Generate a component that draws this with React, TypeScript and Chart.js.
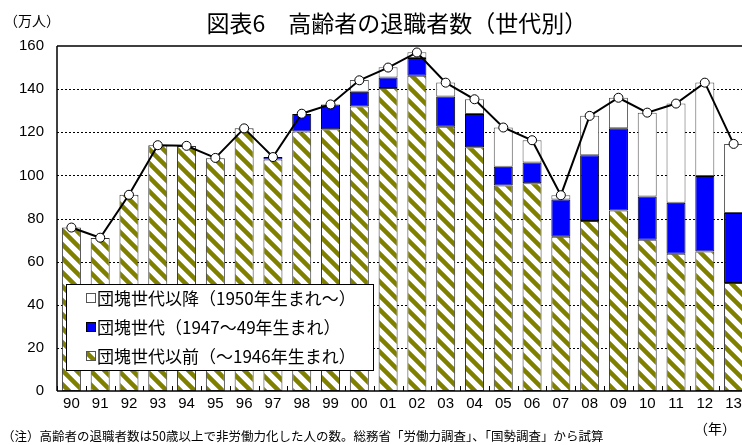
import React, { useEffect, useRef } from "react";
import { Chart, registerables } from "chart.js";

Chart.register(...registerables);

const years = ["90","91","92","93","94","95","96","97","98","99","00","01","02","03","04","05","06","07","08","09","10","11","12","13"];
const preDankai = [75.8, 71, 91, 114, 113.6, 108, 121.8, 107.4, 120.3, 121.4, 132, 140.5, 146.2, 122.6, 113, 95.3, 96.4, 71.5, 78.8, 83.7, 70.2, 63.7, 64.7, 50.1];
const dankai = [0, 0, 0, 0, 0, 0, 0, 1.1, 8.2, 11.5, 6.8, 4.9, 8.2, 14, 15.5, 8.7, 9.6, 17.3, 30.5, 38.2, 20, 23.6, 35, 32.5];
const postDankai = [0, 0, 0, 0, 0, 0, 0, 0, 0, 0, 5.4, 4.7, 2.7, 6.5, 6.8, 18.2, 10.3, 2, 18.3, 14.1, 38.9, 46, 43.4, 32];
const totals = [75.8, 71.1, 91, 114, 113.7, 108.1, 121.8, 108.5, 128.6, 132.9, 144.1, 150, 157, 143, 135.3, 122.2, 116.3, 90.8, 127.6, 136, 129.1, 133.3, 143, 114.6];
const yTicks = [0, 20, 40, 60, 80, 100, 120, 140, 160];
const legendLabels = ["団塊世代以降（1950年生まれ～）", "団塊世代（1947～49年生まれ）", "団塊世代以前（～1946年生まれ）"];

const JP = '"Noto Sans CJK JP", "Noto Sans", sans-serif';
const NUM = '"Liberation Sans Narrow", "Liberation Sans", Arial, sans-serif';
const OLIVE = "#808000";
const BLUE = "#0000FF";

function makeHatch(ctx: CanvasRenderingContext2D) {
  const c = document.createElement("canvas");
  const s = 14;
  c.width = s;
  c.height = s;
  const g = c.getContext("2d")!;
  g.fillStyle = "#fff";
  g.fillRect(0, 0, s, s);
  g.strokeStyle = OLIVE;
  g.lineWidth = 4.5;
  g.beginPath();
  for (let k = -1; k <= 1; k++) {
    g.moveTo(-2, -2 + s * k);
    g.lineTo(s + 2, s + 2 + s * k);
  }
  g.stroke();
  return ctx.createPattern(c, "repeat")!;
}

export default function App() {
  const ref = useRef<HTMLCanvasElement>(null);
  useEffect(() => {
    document.body.style.margin = "0";
    document.body.style.overflow = "hidden";
    const canvas = ref.current!;
    const ctx = canvas.getContext("2d")!;
    const hatch = makeHatch(ctx);

    const framePlugin = {
      id: "frame",
      beforeDatasetsDraw(chart: any) {
        const { ctx: c, chartArea: a, scales } = chart;
        c.save();
        c.strokeStyle = "#000";
        c.lineWidth = 1;
        c.setLineDash([2, 2]);
        c.beginPath();
        for (const v of yTicks) {
          if (v === 0 || v === 160) continue;
          const y = Math.round(scales.y.getPixelForValue(v)) + 0.5;
          c.moveTo(a.left, y);
          c.lineTo(a.right, y);
        }
        c.stroke();
        c.restore();
      },
      afterDraw(chart: any) {
        const { ctx: c, chartArea: a, scales } = chart;
        c.save();
        c.strokeStyle = "#000";
        c.lineWidth = 1.5;
        c.beginPath();
        c.moveTo(a.left, a.top);
        c.lineTo(a.right, a.top);
        c.moveTo(a.left, a.top);
        c.lineTo(a.left, a.bottom);
        c.moveTo(a.left, a.bottom);
        c.lineTo(a.right, a.bottom);
        c.stroke();
        const xs = scales.x;
        c.lineWidth = 1;
        c.beginPath();
        for (let i = 0; i <= years.length; i++) {
          const x = Math.round(xs.getPixelForValue(i - 0.5)) + 0.5;
          c.moveTo(x, a.bottom);
          c.lineTo(x, a.bottom - 5);
        }
        c.stroke();

        // legend
        const lx = 66, ly = 284, lw = 307, lh = 86;
        c.fillStyle = "#fff";
        c.fillRect(lx, ly, lw, lh);
        c.strokeStyle = "#000";
        c.lineWidth = 1;
        c.strokeRect(lx + 0.5, ly + 0.5, lw, lh);
        const fills = ["#fff", BLUE, hatch];
        const rows = [298, 327, 356];
        c.font = `17px ${JP}`;
        c.textBaseline = "middle";
        c.textAlign = "left";
        for (let i = 0; i < 3; i++) {
          const y = rows[i];
          c.fillStyle = fills[i] as any;
          c.fillRect(87, y - 4, 8, 8);
          c.strokeStyle = i === 1 ? "#000" : "#555";
          c.strokeRect(86.5, y - 4.5, 9, 9);
          c.fillStyle = "#000";
          c.fillText(legendLabels[i], 97, y + 1);
        }
        c.restore();
      },
    };

    const barCommon = {
      borderWidth: 1,
      borderSkipped: false,
      stack: "s",
      order: 1,
      barPercentage: 0.66,
      categoryPercentage: 1,
    };

    const chart = new Chart(ctx, {
      type: "bar",
      data: {
        labels: years,
        datasets: [
          {
            type: "line",
            label: "合計",
            data: totals,
            borderColor: "#000",
            borderWidth: 2,
            pointRadius: 4.5,
            pointBackgroundColor: "#fff",
            pointBorderColor: "#000",
            pointBorderWidth: 1,
            tension: 0,
            order: 0,
            stack: "line",
          } as any,
          { ...barCommon, label: legendLabels[2], data: preDankai, backgroundColor: hatch, borderColor: "#333" },
          { ...barCommon, label: legendLabels[1], data: dankai, backgroundColor: BLUE, borderColor: "#000" },
          { ...barCommon, label: legendLabels[0], data: postDankai, backgroundColor: "#fff", borderColor: "#555" },
        ],
      },
      options: {
        animation: false,
        responsive: false,
        maintainAspectRatio: false,
        layout: { padding: { top: 46, right: 12, bottom: 28, left: 0 } },
        plugins: {
          legend: { display: false },
          tooltip: { enabled: false },
          title: { display: false },
        },
        scales: {
          x: {
            stacked: true,
            grid: { display: false, drawTicks: false },
            border: { display: false },
            ticks: { color: "#000", font: { family: NUM, size: 15 }, padding: 4, maxRotation: 0, autoSkip: false },
            afterFit: (s: any) => { s.height = 26; },
          },
          y: {
            stacked: true,
            min: 0,
            max: 160,
            afterBuildTicks: (s: any) => { s.ticks = yTicks.map((v) => ({ value: v })); },
            grid: { display: false, drawTicks: false },
            border: { display: false },
            ticks: { color: "#000", font: { family: NUM, size: 15 }, padding: 13 },
            afterFit: (s: any) => { s.width = 57; },
          },
        },
      } as any,
      plugins: [framePlugin],
    });
    return () => chart.destroy();
  }, []);

  return (
    <div style={{ position: "relative", width: 760, height: 445, background: "#fff", fontFamily: JP }}>
      <canvas ref={ref} width={760} height={445} style={{ position: "absolute", left: 0, top: 0 }} />
      <div style={{ position: "absolute", left: 4, top: 11, fontSize: 14, lineHeight: "18px", color: "#000" }}>（万人）</div>
      <div style={{ position: "absolute", left: 147, width: 500, top: 7, fontSize: 23, lineHeight: "30px", textAlign: "center", color: "#000" }}>
        図表6　高齢者の退職者数（世代別）
      </div>
      <div style={{ position: "absolute", left: 694, top: 419, fontSize: 14, lineHeight: "18px", color: "#000" }}>（年）</div>
      <div style={{ position: "absolute", left: 2, top: 428, fontSize: 12.5, lineHeight: "16px", color: "#000", whiteSpace: "nowrap" }}>
        （注）高齢者の退職者数は50歳以上で非労働力化した人の数。総務省「労働力調査」、「国勢調査」から試算
      </div>
    </div>
  );
}
